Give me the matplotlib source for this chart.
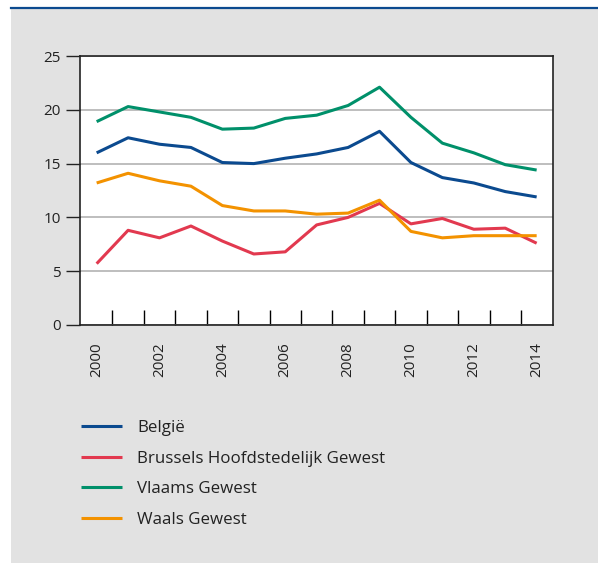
import numpy as np
import matplotlib.pyplot as plt
from matplotlib.patches import Rectangle
from matplotlib.lines import Line2D

plt.rcParams['font.family'] = ['Open Sans', 'DejaVu Sans']

years = list(range(2000, 2015))
belgie = [16.0, 17.4, 16.8, 16.5, 15.1, 15.0, 15.5, 15.9, 16.5, 18.0, 15.1, 13.7, 13.2, 12.4, 11.9]
brussel = [5.7, 8.8, 8.1, 9.2, 7.8, 6.6, 6.8, 9.3, 10.0, 11.3, 9.4, 9.9, 8.9, 9.0, 7.6]
vlaams = [18.9, 20.3, 19.8, 19.3, 18.2, 18.3, 19.2, 19.5, 20.4, 22.1, 19.3, 16.9, 16.0, 14.9, 14.4]
waals = [13.2, 14.1, 13.4, 12.9, 11.1, 10.6, 10.6, 10.3, 10.4, 11.6, 8.7, 8.1, 8.3, 8.3, 8.3]

labels = ['België', 'Brussels Hoofdstedelijk Gewest', 'Vlaams Gewest', 'Waals Gewest']
colors = ['#0b4a8f', '#e2394f', '#00906a', '#f39200']
series = [belgie, brussel, vlaams, waals]

W, H = 598, 563
fig = plt.figure(figsize=(W / 100, H / 100), dpi=100)
fig.patch.set_facecolor('white')

# grey panel and blue top rule
fig.add_artist(Rectangle((11 / W, 0), 1, 1 - 8 / H, transform=fig.transFigure,
                         facecolor='#e2e2e2', edgecolor='none', zorder=-10))
fig.add_artist(Line2D([11 / W, 1], [1 - 7.5 / H, 1 - 7.5 / H], transform=fig.transFigure,
                      color='#0b4a8f', lw=1.6))

ax = fig.add_axes([80 / W, 1 - 325 / H, (553 - 80) / W, (325 - 56) / H])
ax.set_facecolor('white')

x = np.arange(len(years))
for s, c, lab in zip(series, colors, labels):
    ax.plot(x, s, color=c, lw=2.2, label=lab, solid_capstyle='butt')

ax.set_xlim(-0.53, 14.52)
ax.set_ylim(0, 25)
ax.set_yticks([0, 5, 10, 15, 20, 25])
ax.yaxis.grid(True, color='#b3b3b3', lw=1.2)
ax.set_axisbelow(True)
ax.tick_params(axis='y', direction='out', length=10, width=1, labelsize=11, pad=4, colors='#222222')

# category boundaries as inside ticks, even year labels centred on points
ax.set_xticks(x[:-1] + 0.5)
ax.set_xticklabels([])
ax.tick_params(axis='x', direction='in', length=11, width=1)
for i, yr in enumerate(years):
    if yr % 2 == 0:
        ax.text(i, -0.065, str(yr), transform=ax.get_xaxis_transform(), rotation=90,
                ha='center', va='top', fontsize=11, color='#222222')

for sp in ax.spines.values():
    sp.set_color('#222222')
    sp.set_linewidth(1.2)

leg = fig.legend(loc='upper left', bbox_to_anchor=(66 / W, 1 - 405 / H), frameon=False,
                 fontsize=12.2, handlelength=2.4, handletextpad=0.9, labelspacing=0.86)
for t in leg.get_texts():
    t.set_color('#222222')

fig.savefig('out.png', dpi=100)
